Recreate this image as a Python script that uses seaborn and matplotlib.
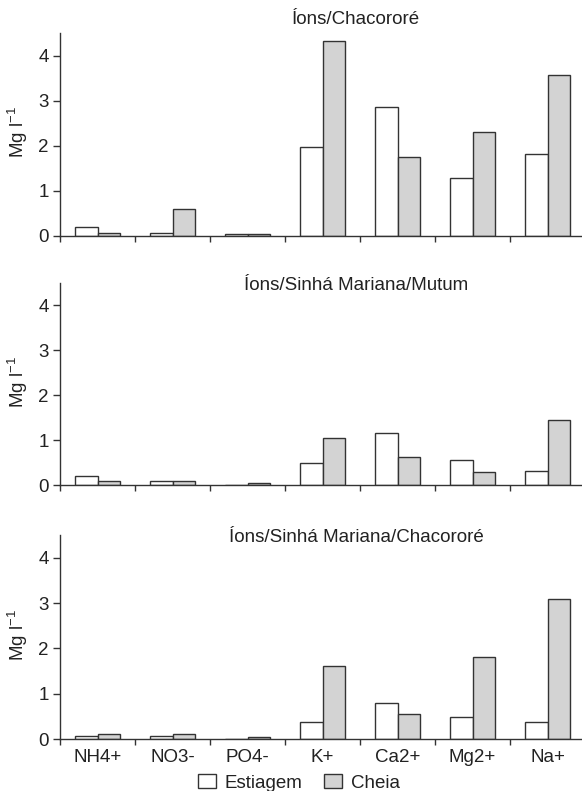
import numpy as np
import pandas as pd
import matplotlib
matplotlib.use("Agg")
import matplotlib.pyplot as plt
import seaborn as sns
from matplotlib.patches import Patch

ions = ["NH4+", "NO3-", "PO4-", "K+", "Ca2+", "Mg2+", "Na+"]
seasons = ["Estiagem", "Cheia"]
titles = ["Íons/Chacororé", "Íons/Sinhá Mariana/Mutum", "Íons/Sinhá Mariana/Chacororé"]

chacorore_estiagem = [0.19, 0.07, 0.04, 1.98, 2.86, 1.28, 1.82]
chacorore_cheia = [0.06, 0.60, 0.04, 4.33, 1.76, 2.31, 3.57]
mutum_estiagem = [0.19, 0.09, 0.01, 0.48, 1.15, 0.56, 0.31]
mutum_cheia = [0.08, 0.09, 0.04, 1.04, 0.63, 0.28, 1.44]
smchac_estiagem = [0.07, 0.07, 0.00, 0.37, 0.80, 0.48, 0.37]
smchac_cheia = [0.12, 0.12, 0.05, 1.60, 0.56, 1.81, 3.09]

panels = [
    (chacorore_estiagem, chacorore_cheia),
    (mutum_estiagem, mutum_cheia),
    (smchac_estiagem, smchac_cheia),
]

sns.set_style("ticks")
plt.rcParams["font.family"] = ["Liberation Sans", "DejaVu Sans"]
plt.rcParams["mathtext.fontset"] = "custom"
plt.rcParams["mathtext.rm"] = "Liberation Sans"
plt.rcParams["mathtext.it"] = "Liberation Sans"

W, H = 582, 791
fig = plt.figure(figsize=(W / 100, H / 100), dpi=100)

txt = "#222222"
edge = "#333333"
fill = ["white", "#d3d3d3"]
fs = 13.5

# (top px, bottom px, title y px)
rows = [(33, 236, 20), (283, 485, 285), (535, 739, 537)]
left_px, right_px = 60, 585

for i, ((est, che), (top, bot, ty)) in enumerate(zip(panels, rows)):
    ax = fig.add_axes([left_px / W, 1 - bot / H, (right_px - left_px) / W, (bot - top) / H])
    df = pd.DataFrame({
        "ion": ions * 2,
        "season": [seasons[0]] * len(ions) + [seasons[1]] * len(ions),
        "value": list(est) + list(che),
    })
    sns.barplot(data=df, x="ion", y="value", hue="season", order=ions,
                hue_order=seasons, palette=fill, edgecolor=edge, linewidth=1.0,
                width=0.6, gap=0, errorbar=None, legend=False, ax=ax)
    ax.set_xlim(-0.5, 6.5)
    ax.set_ylim(0, 4.5)
    ax.set_yticks([0, 1, 2, 3, 4])
    ax.set_yticklabels(["0", "1", "2", "3", "4"], fontsize=fs, color=txt)
    ax.set_xticks(np.arange(len(ions)))
    ax.set_xticks(np.arange(-0.5, 7.0, 1.0), minor=True)
    ax.tick_params(axis="x", which="major", length=0, pad=7)
    ax.tick_params(axis="x", which="minor", length=4, width=1, color=edge, direction="out")
    ax.tick_params(axis="y", length=5, width=1, color=edge, pad=3)
    if i == 2:
        ax.set_xticklabels(ions, fontsize=fs, color=txt)
    else:
        ax.set_xticklabels([])
    ax.set_xlabel("")
    ax.set_ylabel("Mg l$^{-1}$", fontsize=fs, color=txt)
    ax.yaxis.set_label_coords(-0.058, 0.51)
    for s in ["top", "right"]:
        ax.spines[s].set_visible(False)
    for s in ["left", "bottom"]:
        ax.spines[s].set_color(edge)
        ax.spines[s].set_linewidth(1.0)
    fig.text(356 / W, 1 - ty / H, titles[i], ha="center", va="center",
             fontsize=fs, color=txt)

handles = [Patch(facecolor=fill[0], edgecolor=edge, linewidth=1.0),
           Patch(facecolor=fill[1], edgecolor=edge, linewidth=1.0)]
fig.legend(handles, seasons, loc="center", bbox_to_anchor=(299 / W, 1 - 783 / H),
           ncol=2, frameon=False, fontsize=fs, handlelength=0.96, handleheight=0.7,
           handletextpad=0.48, columnspacing=1.17, borderpad=0, borderaxespad=0,
           labelcolor=txt)

fig.savefig("out.png", dpi=100)
